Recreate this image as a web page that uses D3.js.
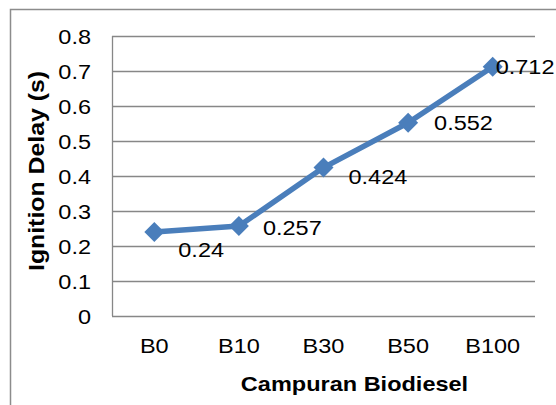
<!DOCTYPE html>
<html>
<head>
<meta charset="utf-8">
<script src="https://cdn.jsdelivr.net/npm/d3@7"></script>
<style>
  body { margin: 0; background: #fff; }
  text { font-family: "Liberation Sans", Arial, sans-serif; fill: #000; }
</style>
</head>
<body>
<svg width="556" height="405"></svg>
<script>
var categories = ["B0", "B10", "B30", "B50", "B100"];
var delays = [0.24, 0.257, 0.424, 0.552, 0.712];
var yTicks = [0, 0.1, 0.2, 0.3, 0.4, 0.5, 0.6, 0.7, 0.8];

// label nudges (px) from each point, Excel "right" placement
var labelDx = [24, 24, 25, 26, 3];
var labelDy = [17, 1, 9, 0, 0];

var svg = d3.select("svg"),
    width = +svg.attr("width"),
    height = +svg.attr("height"),
    sx = 1.12, // the picture is stretched sideways
    lineColor = "#4A7EBB",
    gridColor = "#878787";

var plot = {left: 112, right: 535, top: 36, bottom: 316};

var x = d3.scaleBand()
  .domain(categories)
  .range([plot.left, plot.right]);

var y = d3.scaleLinear()
  .domain([0, 0.8])
  .range([plot.bottom, plot.top]);

function label(sel, px, py, str) {
  return sel.append("text")
    .attr("transform", "translate(" + px + "," + py + ") scale(" + sx + ",1)")
    .text(str);
}

// outer chart frame (cut off at right/bottom)
svg.append("rect")
  .attr("x", 10.5).attr("y", 9.5)
  .attr("width", width + 20).attr("height", height + 20)
  .attr("fill", "none")
  .attr("stroke", "#8c8c8c")
  .attr("stroke-width", 1.5);

// gridlines
svg.append("g").selectAll("line")
  .data(yTicks)
  .enter().append("line")
    .attr("x1", plot.left).attr("x2", plot.right)
    .attr("y1", function(d) { return Math.round(y(d)) + 0.5; })
    .attr("y2", function(d) { return Math.round(y(d)) + 0.5; })
    .attr("stroke", gridColor)
    .attr("stroke-width", 1.3);

svg.append("line")
  .attr("x1", plot.left + 0.5).attr("x2", plot.left + 0.5)
  .attr("y1", plot.top).attr("y2", plot.bottom)
  .attr("stroke", gridColor)
  .attr("stroke-width", 1.3);

// y tick labels
var yl = svg.append("g").attr("font-size", 21).attr("text-anchor", "end");
yTicks.forEach(function(t) {
  label(yl, 91, y(t) + 7.5, d3.format("")(+t.toFixed(1)));
});

// x category labels
var xl = svg.append("g").attr("font-size", 21).attr("text-anchor", "middle");
categories.forEach(function(c) {
  label(xl, x(c) + x.bandwidth() / 2, 353, c);
});

// axis titles
label(svg, (plot.left + plot.right) / 2 + 31, 391, "Campuran Biodiesel")
  .attr("font-size", 21)
  .attr("font-weight", "bold")
  .attr("text-anchor", "middle");

svg.append("text")
  .attr("transform", "translate(43.5,171) rotate(-90)")
  .attr("font-size", 22)
  .attr("font-weight", "bold")
  .attr("text-anchor", "middle")
  .attr("textLength", 200)
  .attr("lengthAdjust", "spacingAndGlyphs")
  .text("Ignition Delay (s)");

// series
var pts = delays.map(function(v, i) {
  return {x: x(categories[i]) + x.bandwidth() / 2, y: y(v), v: v, i: i};
});

svg.append("path")
  .datum(pts)
  .attr("d", d3.line().x(function(d) { return d.x; }).y(function(d) { return d.y; }))
  .attr("fill", "none")
  .attr("stroke", lineColor)
  .attr("stroke-width", 5.5)
  .attr("stroke-linejoin", "round");

svg.append("g").selectAll("path")
  .data(pts)
  .enter().append("path")
    .attr("transform", function(d) { return "translate(" + d.x + "," + d.y + ")"; })
    .attr("d", "M0,-10L10,0L0,10L-10,0Z")
    .attr("fill", lineColor);

// data labels
var dl = svg.append("g").attr("font-size", 21);
pts.forEach(function(p) {
  label(dl, p.x + labelDx[p.i], p.y + labelDy[p.i] + 7.5, String(p.v));
});
</script>
</body>
</html>
